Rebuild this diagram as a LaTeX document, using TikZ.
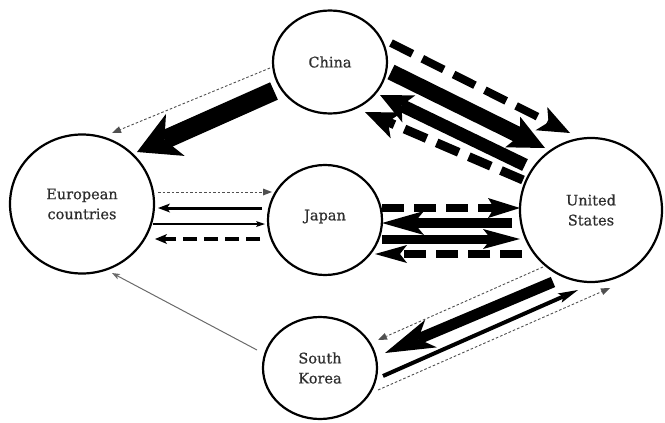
\documentclass[tikz,border=0pt]{standalone}
\usepackage{fontspec}
\setmainfont{DejaVu Serif}[FakeBold=0.7]
\usetikzlibrary{arrows.meta,shapes.geometric}
\definecolor{txt}{HTML}{2E2E2E}
\definecolor{thin}{HTML}{505050}
\definecolor{pale}{HTML}{6A6A6A}
\tikzset{
  circ/.style={ellipse, draw, line width=2.2pt, inner sep=0pt, align=center,
    text=txt, font=\fontsize{14.5}{20}\selectfont},
  stl/.style n args={3}{-{Stealth[length=#1,width=#2,inset=#3,line width=0pt]}},
  tri/.style={-{Triangle[length=9pt,width=7pt,line width=0pt]}},
  dotl/.style={line width=0.9pt, draw=thin, dash pattern=on 2.6pt off 2pt, tri},
  bigdash/.style={dash pattern=on 24pt off 11pt},
  middash/.style={dash pattern=on 14pt off 7pt},
  jdash/.style={dash pattern=on 22pt off 10pt},
}
\begin{document}
\begin{tikzpicture}[x=1pt, y=-1pt]
\useasboundingbox (0,0) rectangle (665,423);

% countries
\node[circ, minimum width=114pt, minimum height=103pt] (china) at (330,62) {China};
\node[circ, minimum width=144pt, minimum height=139pt] (europe) at (82,204) {European\\countries};
\node[circ, minimum width=114pt, minimum height=110pt] (japan) at (325,220) {\raisebox{10pt}{Japan}};
\node[circ, minimum width=142pt, minimum height=144pt] (us) at (591,210) {United\\States};
\node[circ, minimum width=114pt, minimum height=102pt] (korea) at (320,368) {South\\Korea};

% China -- Europe
\draw[dotl] ([shift={(-60,6)}]china.center) -- ([shift={(30,-71)}]europe.center);
\draw[line width=19pt, stl={42pt}{46pt}{12pt}]
  ([shift={(-56,29)}]china.center) -- ([shift={(55,-52)}]europe.center);

% China -- United States
\draw[line width=8pt, bigdash, stl={32pt}{26pt}{8pt}]
  ([shift={(61,-19)}]china.center) -- ([shift={(-21,-77)}]us.center);
\draw[line width=16pt, stl={36pt}{34pt}{8pt}]
  ([shift={(61,10)}]china.center) -- ([shift={(-46,-62)}]us.center);
\draw[line width=13pt, stl={32pt}{30pt}{8pt}]
  ([shift={(-66,-45)}]us.center) -- ([shift={(50,33)}]china.center);
\draw[line width=9pt, bigdash, stl={34pt}{28pt}{9pt}]
  ([shift={(-68,-30)}]us.center) -- ([shift={(35,50)}]china.center);

% Europe -- Japan
\draw[dotl] ([shift={(76,-12)}]europe.center) -- ([shift={(-53,-28)}]japan.center);
\draw[line width=3pt, stl={12pt}{9pt}{3pt}]
  ([shift={(-63,-12)}]japan.center) -- ([shift={(76,4)}]europe.center);
\draw[line width=1.2pt, stl={9pt}{6pt}{2pt}]
  ([shift={(71,20)}]europe.center) -- ([shift={(-60,4)}]japan.center);
\draw[line width=4.5pt, middash, stl={12pt}{10pt}{3pt}]
  ([shift={(-65,19)}]japan.center) -- ([shift={(73,35)}]europe.center);

% Japan -- United States
\draw[line width=8pt, jdash, stl={32pt}{20pt}{6pt}]
  ([shift={(57,-12)}]japan.center) -- ([shift={(-71,-2)}]us.center);
\draw[line width=10pt, stl={42pt}{24pt}{10pt}]
  ([shift={(-79,13)}]us.center) -- ([shift={(57,3)}]japan.center);
\draw[line width=9pt, stl={37pt}{20pt}{8pt}]
  ([shift={(57,19)}]japan.center) -- ([shift={(-71,29)}]us.center);
\draw[line width=8pt, jdash, stl={32pt}{18pt}{7pt}]
  ([shift={(-69,44)}]us.center) -- ([shift={(50,34)}]japan.center);

% South Korea -- United States
\draw[dotl] ([shift={(-48,57)}]us.center) -- ([shift={(58,-28)}]korea.center);
\draw[line width=11pt, stl={50pt}{30pt}{14pt}]
  ([shift={(-38,72)}]us.center) -- ([shift={(65,-15)}]korea.center);
\draw[line width=4pt, stl={20pt}{10pt}{4pt}]
  ([shift={(63,8)}]korea.center) -- ([shift={(-13,80)}]us.center);
\draw[dotl] ([shift={(58,22)}]korea.center) -- ([shift={(19,78)}]us.center);

% South Korea -- Europe
\draw[line width=1pt, draw=pale, stl={8pt}{6pt}{2pt}]
  ([shift={(-63,-18)}]korea.center) -- ([shift={(30,69)}]europe.center);
\end{tikzpicture}
\end{document}
